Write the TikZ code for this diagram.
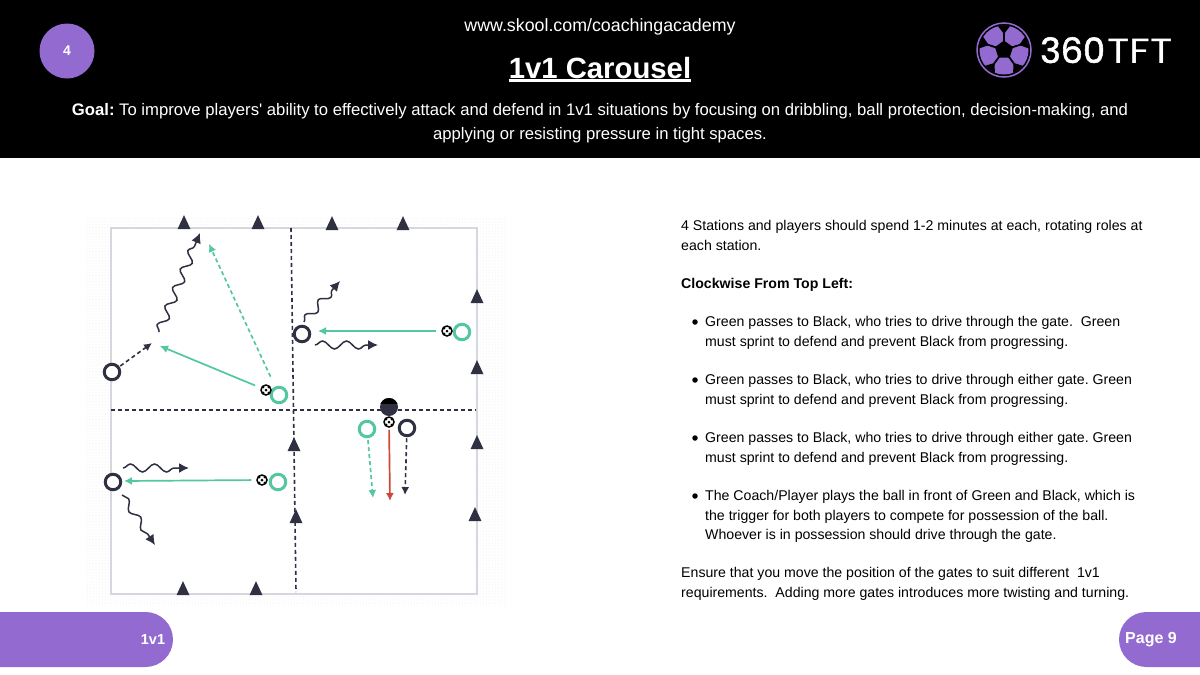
\documentclass[tikz,border=0pt]{standalone}
\usepackage{fontspec}
\setmainfont{Liberation Sans}[Ligatures=TeXOff]
\newfontfamily\logofont[FakeStretch=1.18]{Poppins}
\newfontfamily\logoheavy[FakeBold=1.6]{Poppins}
\usetikzlibrary{arrows.meta,decorations.pathmorphing,patterns,shapes.geometric}
\definecolor{brandpurple}{RGB}{147,107,208}
\definecolor{inkdark}{RGB}{47,49,66}
\definecolor{passgreen}{RGB}{82,199,160}
\definecolor{shotred}{RGB}{205,72,58}
\definecolor{pitchline}{RGB}{214,214,222}
\definecolor{dotgrey}{RGB}{232,232,232}
\frenchspacing

\begin{document}
\begin{tikzpicture}[
  x=1pt, y=-1pt, >=Latex,
  bodytext/.style={anchor=north west, inner sep=0pt, align=left, text=black,
                   font=\fontsize{14.14}{19.3}\selectfont},
  bulletdot/.style={circle, fill=black, inner sep=0pt, minimum size=5.5pt},
  gate/.style={isosceles triangle, isosceles triangle stretches, shape border rotate=90,
               fill=inkdark, inner sep=0pt, minimum width=13pt, minimum height=14pt, yshift=-2pt},
  blackplayer/.style={circle, draw=inkdark, line width=3pt, fill=white, inner sep=0pt, minimum size=15.5pt},
  greenplayer/.style={circle, draw=passgreen, line width=3pt, fill=white, inner sep=0pt, minimum size=15.5pt},
  coachplayer/.style={circle, fill=inkdark, inner sep=0pt, minimum size=18pt,
    path picture={\fill[black] (path picture bounding box.north west) rectangle ([yshift=3pt]path picture bounding box.east);}},
  ball/.style={circle, draw=black, line width=1.5pt, fill=white, inner sep=0pt, minimum size=10pt,
    path picture={\fill[black] (path picture bounding box.center) circle (1.5pt);
      \foreach \a in {45,135,225,315} {\fill[black] ([shift={(\a:3.6pt)}]path picture bounding box.center) circle (1pt);}}},
  pass/.style={->, passgreen, line width=1.7pt, >={Latex[length=8pt,width=8pt]}},
  passrun/.style={pass, dash pattern=on 4pt off 3pt},
  run/.style={->, inkdark, line width=1.6pt, dash pattern=on 4pt off 3pt, >={Latex[length=8pt,width=8pt]}},
  dribble/.style={->, inkdark, line width=1.5pt, >={Latex[length=10pt,width=10pt]},
    decorate, decoration={snake, amplitude=4.5pt, segment length=20pt, post length=8pt}},
  divider/.style={inkdark, line width=1.6pt, dash pattern=on 4pt off 3pt}]
\useasboundingbox (0,0) rectangle (1200,675);
\fill[white] (0,0) rectangle (1200,675);
\fill[black] (0,0) rectangle (1200,158);

\node[circle, fill=brandpurple, minimum size=55pt, inner sep=0pt, text=white, font=\bfseries\fontsize{14}{14}\selectfont] (badge) at (67,51) {4};
\node[text=white, font=\fontsize{17.8}{20}\selectfont] (site) at (600,27) {www.skool.com/coachingacademy};
\node[text=white, inner sep=0pt, font=\bfseries\fontsize{29.3}{32}\selectfont] (title) at (600,68) {1v1 Carousel};
\draw[white, line width=2.4pt] ([yshift=-2pt]title.base west) -- ([yshift=-2pt]title.base east);
\node[text=white, align=center, font=\fontsize{16.68}{24}\selectfont] (goal) at (600,123)
  {\textbf{Goal:} To improve players' ability to effectively attack and defend in 1v1 situations by focusing on dribbling, ball protection, decision-making, and\\
   applying or resisting pressure in tight spaces.};

\node[circle, draw=brandpurple, line width=1.5pt, fill=black, minimum size=54pt, inner sep=0pt] (logoball) at (1004,50) {};
\fill[brandpurple] (logoball.center) circle (24.5pt);
\node[regular polygon, regular polygon sides=5, fill=black, inner sep=0pt, minimum size=19pt] (logocore) at (logoball.center) {};
\foreach \a in {18,90,162,234,306} {
  \draw[black, line width=1.8pt] ([shift={(\a:8pt)}]logoball.center) -- ([shift={(\a:18pt)}]logoball.center);
  \fill[black] ([shift={(\a:16pt)}]logoball.center) -- ([shift={(\a+15:25.5pt)}]logoball.center) -- ([shift={(\a-15:25.5pt)}]logoball.center) -- cycle;
}
\node[anchor=base west, inner sep=0pt, text=white, font=\logoheavy\fontsize{35}{35}\selectfont] (logonum) at (1040,63) {360};
\node[anchor=base west, inner sep=0pt, text=white, font=\logofont\fontsize{35}{35}\selectfont] (logotft) at ([xshift=2pt]logonum.base east) {TFT};

\fill[pattern=dots, pattern color=dotgrey] (85,218) rectangle (507,605);
\draw[pitchline, line width=2.6pt, fill=white] (111,228) rectangle (477,594);

\coordinate (divtop) at (291,228);
\coordinate (divbot) at (296,592);
\coordinate (divleft) at (111,410);
\coordinate (divright) at (476,410);
\draw[divider] (divtop) -- (divbot);
\draw[divider] (divleft) -- (divright);

\foreach \n/\px/\py in {t1/184/223,t2/258/223,t3/332/224,t4/403/224,
    r1/477/297,r2/477/368,r3/477/443,r4/475/515,
    b1/183/589,b2/256/589,m1/294/445,m2/296/517}
  \node[gate] (gate\n) at (\px,\py) {};

\node[blackplayer] (topleftblack) at (112,372) {};
\node[greenplayer] (topleftgreen) at (279,395) {};
\node[ball] (topleftball) at (266,390) {};
\node[blackplayer] (toprightblack) at (302,334) {};
\node[greenplayer] (toprightgreen) at (462,332) {};
\node[ball] (toprightball) at (447,331) {};
\node[blackplayer] (botleftblack) at (113,482) {};
\node[greenplayer] (botleftgreen) at (278,482) {};
\node[ball] (botleftball) at (262,480) {};
\node[coachplayer] (coach) at (389,407) {};
\node[ball] (botrightball) at (389,422) {};
\node[blackplayer] (botrightblack) at (407,428) {};
\node[greenplayer] (botrightgreen) at (367,429) {};

\coordinate (passA) at (160,346);
\coordinate (runA) at (152,343);
\coordinate (sprintA) at (209,244);
\coordinate (dribA0) at (159,332);
\coordinate (dribA1) at (200,233);
\coordinate (passB) at (318,331);
\coordinate (dribB0) at (304,322);
\coordinate (dribB1) at (340,281);
\coordinate (dribB2) at (315,345);
\coordinate (dribB3) at (378,345);
\coordinate (passC) at (124,481);
\coordinate (dribC0) at (123,468);
\coordinate (dribC1) at (189,468);
\coordinate (dribC2) at (122,495);
\coordinate (dribC3) at (155,545);
\coordinate (sprintD) at (373,498);
\coordinate (shotD) at (390,501);
\coordinate (runD) at (405,495);

\draw[pass, shorten <=6pt] (topleftball) -- (passA);
\draw[passrun, shorten <=11pt] (topleftgreen) -- (sprintA);
\draw[run, shorten <=1pt] (topleftblack) -- (runA);
\draw[dribble] (dribA0) -- (dribA1);
\draw[pass, shorten <=5pt] (toprightball) -- (passB);
\draw[dribble, decoration={amplitude=4pt, segment length=20pt}] (dribB0) -- (dribB1);
\draw[dribble, decoration={amplitude=4pt, segment length=24pt}] (dribB2) -- (dribB3);
\draw[pass, shorten <=5pt] (botleftball) -- (passC);
\draw[dribble, decoration={amplitude=4pt, segment length=24pt}] (dribC0) -- (dribC1);
\draw[dribble, decoration={amplitude=3.5pt, segment length=22pt}] (dribC2) -- (dribC3);
\draw[passrun, shorten <=2pt] (botrightgreen) -- (sprintD);
\draw[->, shotred, line width=1.7pt, >={Latex[length=8pt,width=8pt]}, shorten <=2pt] (botrightball) -- (shotD);
\draw[run, shorten <=1pt] (botrightblack) -- (runD);

\node[bodytext] (intro) at (681,220.5) {4 Stations and players should spend 1-2 minutes at each, rotating roles at\\each station.};
\node[bodytext, font=\bfseries\fontsize{14.14}{19.3}\selectfont] (heading) at (681,278.5) {Clockwise From Top Left:};
\node[bodytext] (stationA) at (705,316.5) {Green passes to Black, who tries to drive through the gate.\ \ Green\\must sprint to defend and prevent Black from progressing.};
\node[bodytext] (stationB) at (705,374.5) {Green passes to Black, who tries to drive through either gate. Green\\must sprint to defend and prevent Black from progressing.};
\node[bodytext] (stationC) at (705,432.5) {Green passes to Black, who tries to drive through either gate. Green\\must sprint to defend and prevent Black from progressing.};
\node[bodytext] (stationD) at (705,490.5) {The Coach/Player plays the ball in front of Green and Black, which is\\the trigger for both players to compete for possession of the ball.\\Whoever is in possession should drive through the gate.};
\node[bodytext] (closing) at (681,567.5) {Ensure that you move the position of the gates to suit different\ \ 1v1\\requirements.\ \ Adding more gates introduces more twisting and turning.};
\foreach \n/\py in {A/322,B/380,C/438,D/496}
  \node[bulletdot] (bullet\n) at (695,\py) {};

\fill[brandpurple, rounded corners=27.5pt] (-40,612) rectangle (173,667);
\fill[brandpurple, rounded corners=27.5pt] (1119,612) rectangle (1260,667);
\node[text=white, font=\bfseries\fontsize{14.5}{16}\selectfont] (sectionlabel) at (153,640) {1v1};
\node[text=white, font=\bfseries\fontsize{16}{18}\selectfont] (pagelabel) at (1151,640) {Page 9};
\end{tikzpicture}
\end{document}
